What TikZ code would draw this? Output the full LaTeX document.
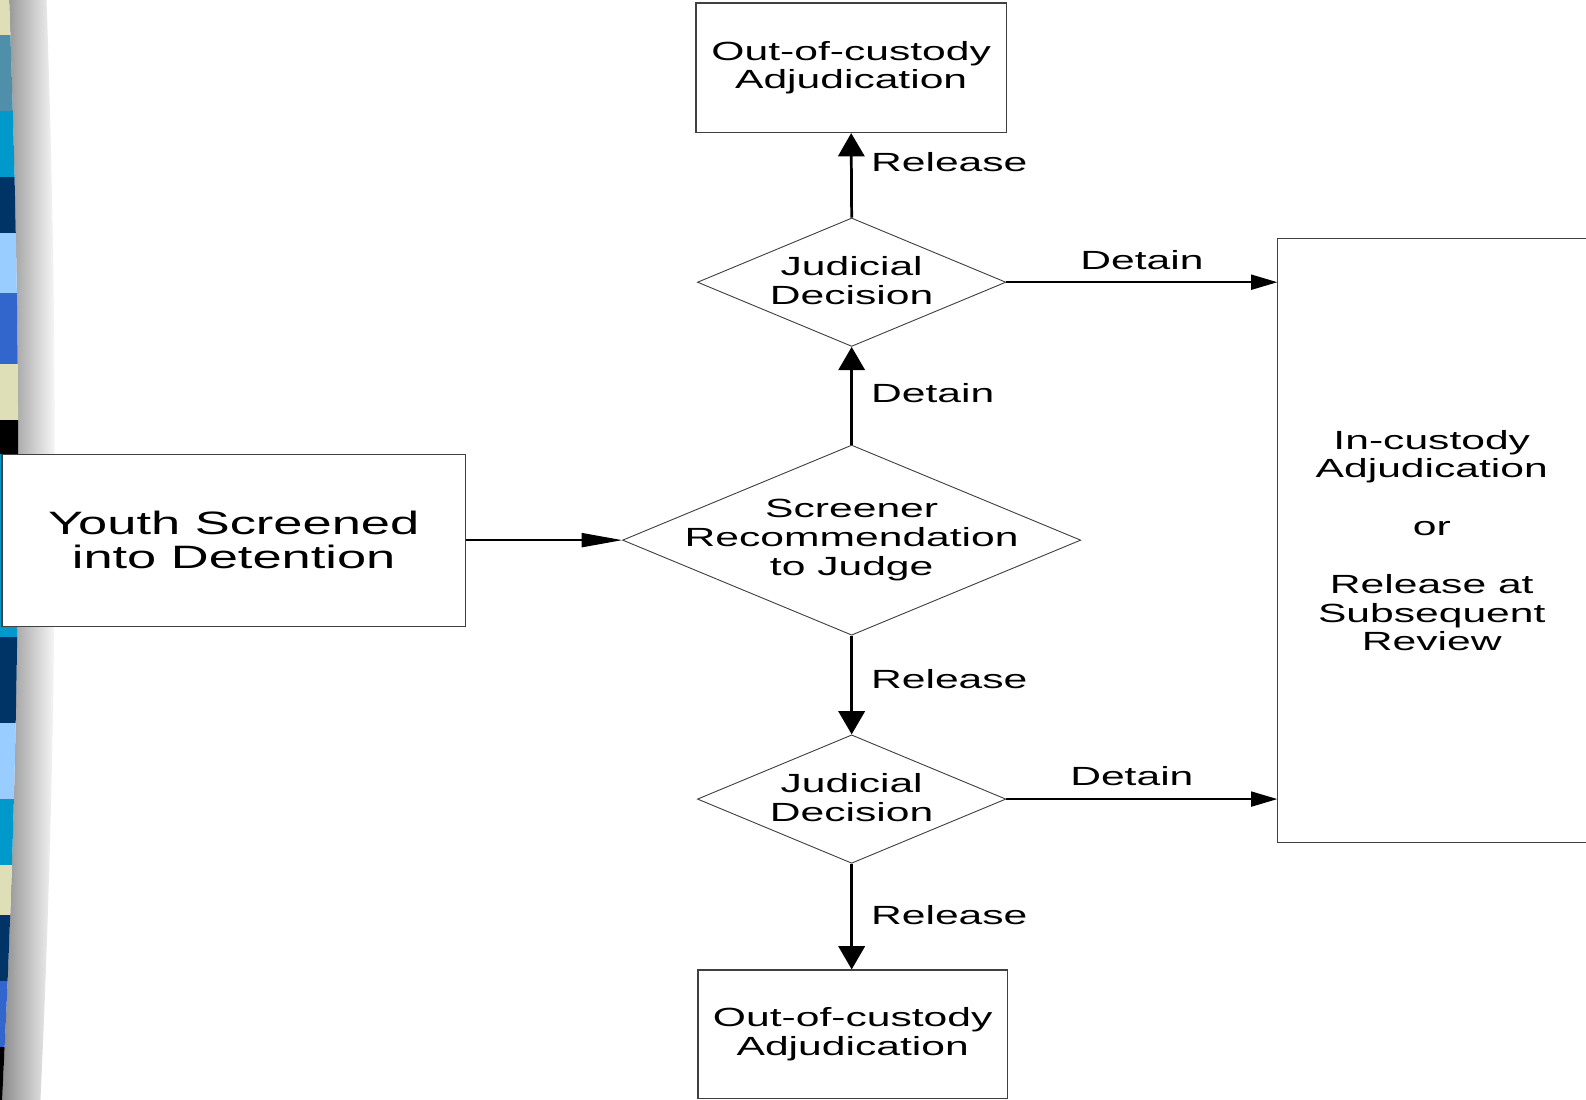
\documentclass[tikz,border=0pt]{standalone}
\usepackage{fontspec}
\setmainfont{Liberation Sans}[FakeStretch=1.62]
\usetikzlibrary{shapes.geometric,arrows.meta}
\definecolor{tbeige}{HTML}{DEDFB7}
\definecolor{tsteel}{HTML}{4F8FAA}
\definecolor{tcyan}{HTML}{0099CC}
\definecolor{tnavy}{HTML}{003366}
\definecolor{tlight}{HTML}{99CCFF}
\definecolor{troyal}{HTML}{3366CC}
\definecolor{edgec}{HTML}{404040}
\begin{document}
\begin{tikzpicture}[x=1pt,y=-1pt,
  box/.style={draw=edgec, line width=1.2pt, fill=white, inner sep=0pt, align=center, font=\fontsize{26}{28.5}\selectfont},
  dia/.style={diamond, draw=edgec, line width=0.9pt, inner sep=0pt, fill=white},
  txt/.style={align=center, font=\fontsize{26}{28.5}\selectfont, inner sep=0pt},
  thinarrow/.style={line width=1.5pt, -{Triangle[length=26pt,width=15pt]}},
  longarrow/.style={line width=1.5pt, -{Triangle[length=40pt,width=14pt]}},
  thickarrow/.style={line width=2.7pt, -{Triangle[length=23pt,width=26pt]}},
  lab/.style={font=\fontsize{26}{28.5}\selectfont, inner sep=0pt}]
\useasboundingbox (0,0) rectangle (1568,1087.5);
\fill[white] (0,0) rectangle (1568,1087.5);
% left decorative strip with shadow
\shade[left color=black!45, right color=white]
  (9,0) .. controls (22,350) and (22,700) .. (2,1087.5) -- (40,1087.5) .. controls (58,700) and (58,350) .. (46,0) -- cycle;
\begin{scope}
\clip (0,0) -- (9,0) .. controls (22,350) and (22,700) .. (2,1087.5) -- (0,1087.5) -- cycle;
\fill[tbeige] (0,0) rectangle (30,35);
\fill[tsteel] (0,35) rectangle (30,110);
\fill[tcyan] (0,110) rectangle (30,175);
\fill[tnavy] (0,175) rectangle (30,230);
\fill[tlight] (0,230) rectangle (30,290);
\fill[troyal] (0,290) rectangle (30,360);
\fill[tbeige] (0,360) rectangle (30,415);
\fill[black] (0,415) rectangle (30,449);
\fill[tcyan] (0,449) rectangle (30,630);
\fill[tnavy] (0,630) rectangle (30,715);
\fill[tlight] (0,715) rectangle (30,790);
\fill[tcyan] (0,790) rectangle (30,855);
\fill[tbeige] (0,855) rectangle (30,905);
\fill[tnavy] (0,905) rectangle (30,970);
\fill[troyal] (0,970) rectangle (30,1035);
\fill[black] (0,1035) rectangle (30,1087.5);
\end{scope}
% nodes
\node[box, minimum width=458, minimum height=170, font=\fontsize{32}{34}\selectfont] (youth) at (231,534) {Youth Screened\\into Detention};
\node[box, minimum width=307, minimum height=128] (out1) at (841.5,67) {Out-of-custody\\Adjudication};
\node[box, minimum width=306, minimum height=127] (out2) at (843,1022.5) {Out-of-custody\\Adjudication};
\node[txt, minimum width=305, minimum height=597] (inc) at (1415.5,534.5) {In-custody\\Adjudication\\[28.5pt]or\\[28.5pt]Release at\\Subsequent\\Review};
\draw[edgec, line width=1.2pt] (inc.north east) -- (inc.north west) -- (inc.south west) -- (inc.south east);
\node[dia, minimum width=453, minimum height=188] (scr) at (842,534) {};
\node[txt] (scrt) at (scr.center) {Screener\\Recommendation\\to Judge};
\node[dia, minimum width=305, minimum height=127] (jd1) at (842,279) {};
\node[txt] (jd1t) at ([yshift=1.5pt]jd1.center) {Judicial\\Decision};
\node[dia, minimum width=305, minimum height=127] (jd2) at (842,790) {};
\node[txt] (jd2t) at ([yshift=1.5pt]jd2.center) {Judicial\\Decision};
% connectors
\draw[longarrow] (youth.east) -- (scr.west);
\draw[thickarrow] (scr.north) -- (jd1.south);
\draw[thickarrow] (jd1.north) -- (out1.south);
\draw[thinarrow] (jd1.east) -- (jd1.east -| inc.west);
\draw[thickarrow] (scr.south) -- (jd2.north);
\draw[thinarrow] (jd2.east) -- (jd2.east -| inc.west);
\draw[thickarrow] (jd2.south) -- (jd2.south |- out2.north);
% labels
\node[lab, anchor=west] (l1) at (861,160) {Release};
\node[lab, anchor=west] (l2) at (861,389) {Detain};
\node[lab] (l3) at (1129,257) {Detain};
\node[lab, anchor=west] (l4) at (861,671) {Release};
\node[lab] (l5) at (1119,767) {Detain};
\node[lab, anchor=west] (l6) at (861,905) {Release};
\end{tikzpicture}
\end{document}
